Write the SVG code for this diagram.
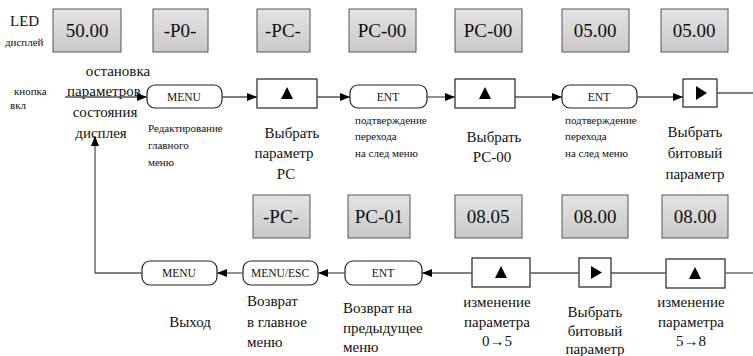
<svg xmlns="http://www.w3.org/2000/svg" width="753" height="356" viewBox="0 0 753 356" font-family="Liberation Serif, serif">
<defs>
<linearGradient id="g" x1="0" y1="0" x2="0" y2="1"><stop offset="0" stop-color="#e4e4e4"/><stop offset="1" stop-color="#c9c9c9"/></linearGradient>
<marker id="ah" markerWidth="10" markerHeight="8" refX="10" refY="4" orient="auto" markerUnits="userSpaceOnUse"><path d="M0,0 L10,4 L0,8 Z" fill="#000"/></marker>
</defs>
<style>
text{fill:#111}
.led rect{fill:url(#g);stroke:#555;stroke-width:1}
.led text{font-size:19px;text-anchor:middle}
.btn rect{fill:#fff;stroke:#222;stroke-width:1.2}
.btn text{font-size:11.5px;text-anchor:middle}
.k rect{fill:#fff;stroke:#222;stroke-width:1.2}
.k polygon{fill:#000}
.s{font-size:11px}
.m{font-size:15px}
.c{text-anchor:middle}
.con path{fill:none;stroke:#555;stroke-width:1.3}
</style>
<rect width="753" height="356" fill="#fff"/>
<g id="labels">
<text x="10" y="26" font-size="15">LED</text>
<text x="5" y="46" class="s">дисплей</text>
<text x="14" y="95" class="s">кнопка</text>
<text x="10" y="109" class="s">вкл</text>
<text x="118" y="76" class="m c">остановка</text>
<text x="104" y="96" class="m c">параметров</text>
<text x="105" y="117" class="m c">состояния</text>
<text x="101" y="138" class="m c">дисплея</text>
<text x="148" y="132" class="s">Редактирование</text>
<text x="148" y="149" class="s">главного</text>
<text x="148" y="166" class="s">меню</text>
<text x="292" y="138" class="m c">Выбрать</text>
<text x="284" y="158" class="m c">параметр</text>
<text x="286" y="179" class="m c">PC</text>
<text x="355" y="124" class="s">подтверждение</text>
<text x="355" y="140" class="s">перехода</text>
<text x="355" y="157" class="s">на след меню</text>
<text x="494" y="142" class="m c">Выбрать</text>
<text x="492" y="162" class="m c">PC-00</text>
<text x="565" y="124" class="s">подтверждение</text>
<text x="565" y="140" class="s">перехода</text>
<text x="565" y="157" class="s">на след меню</text>
<text x="695" y="137" class="m c">Выбрать</text>
<text x="695" y="158" class="m c">битовый</text>
<text x="695" y="179" class="m c">параметр</text>
<text x="190" y="327" class="m c">Выход</text>
<text x="247" y="306" class="m">Возврат</text>
<text x="247" y="327" class="m">в главное</text>
<text x="247" y="347" class="m">меню</text>
<text x="343" y="313" class="m">Возврат на</text>
<text x="343" y="333" class="m">предыдущее</text>
<text x="343" y="352" class="m">меню</text>
<text x="497" y="307" class="m c">изменение</text>
<text x="497" y="327" class="m c">параметра</text>
<text x="497" y="346" class="m c">0→5</text>
<text x="595" y="317" class="m c">Выбрать</text>
<text x="595" y="336" class="m c">битовый</text>
<text x="595" y="354" class="m c">параметр</text>
<text x="691" y="307" class="m c">изменение</text>
<text x="691" y="327" class="m c">параметра</text>
<text x="691" y="346" class="m c">5→8</text>
</g>
<g id="led1" class="led"><rect x="53" y="9" width="68" height="43"/><text x="87" y="37">50.00</text></g>
<g id="led2" class="led"><rect x="153" y="9" width="55" height="43"/><text x="180" y="37">-P0-</text></g>
<g id="led3" class="led"><rect x="257" y="9" width="53" height="43"/><text x="283" y="37">-PC-</text></g>
<g id="led4" class="led"><rect x="349" y="9" width="67" height="43"/><text x="382" y="37">PC-00</text></g>
<g id="led5" class="led"><rect x="455" y="9" width="67" height="43"/><text x="488" y="37">PC-00</text></g>
<g id="led6" class="led"><rect x="562" y="9" width="67" height="43"/><text x="595" y="37">05.00</text></g>
<g id="led7" class="led"><rect x="661" y="9" width="67" height="43"/><text x="694" y="37">05.00</text></g>
<g id="led8" class="led"><rect x="253" y="195" width="57" height="43"/><text x="281" y="223">-PC-</text></g>
<g id="led9" class="led"><rect x="348" y="195" width="62" height="43"/><text x="379" y="223">PC-01</text></g>
<g id="led10" class="led"><rect x="455" y="195" width="67" height="43"/><text x="488" y="223">08.05</text></g>
<g id="led11" class="led"><rect x="562" y="195" width="66" height="43"/><text x="595" y="223">08.00</text></g>
<g id="led12" class="led"><rect x="662" y="195" width="66" height="43"/><text x="695" y="223">08.00</text></g>
<g id="menu1" class="btn"><rect x="147" y="85" width="75" height="23" rx="8"/><text x="184" y="101">MENU</text></g>
<g id="up1" class="k"><rect x="257" y="79" width="60" height="29"/><polygon points="287,87 293,99 281,99"/></g>
<g id="ent1" class="btn"><rect x="350" y="85" width="77" height="23" rx="8"/><text x="388" y="101">ENT</text></g>
<g id="up2" class="k"><rect x="455" y="79" width="60" height="29"/><polygon points="485,87 491,99 479,99"/></g>
<g id="ent2" class="btn"><rect x="562" y="85" width="75" height="23" rx="8"/><text x="599" y="101">ENT</text></g>
<g id="right1" class="k"><rect x="683" y="79" width="34" height="28"/><polygon points="696,86 707,93 696,100"/></g>
<g id="menu2" class="btn"><rect x="142" y="261" width="75" height="24" rx="8"/><text x="179" y="277">MENU</text></g>
<g id="menuesc" class="btn"><rect x="243" y="261" width="75" height="24" rx="8"/><text x="280" y="277">MENU/ESC</text></g>
<g id="ent3" class="btn"><rect x="345" y="261" width="77" height="24" rx="8"/><text x="383" y="277">ENT</text></g>
<g id="up3" class="k"><rect x="472" y="258" width="58" height="29"/><polygon points="501,266 507,278 495,278"/></g>
<g id="right2" class="k"><rect x="579" y="258" width="32" height="29"/><polygon points="591,266 602,272.5 591,279"/></g>
<g id="up4" class="k"><rect x="666" y="259" width="59" height="29"/><polygon points="695,267 701,279 689,279"/></g>
<g id="connectors" class="con">
<path d="M65,97 H147" marker-end="url(#ah)"/>
<path d="M222,97 H257" marker-end="url(#ah)"/>
<path d="M317,97 H350" marker-end="url(#ah)"/>
<path d="M427,97 H455" marker-end="url(#ah)"/>
<path d="M515,97 H562" marker-end="url(#ah)"/>
<path d="M637,97 H683" marker-end="url(#ah)"/>
<path d="M717,93 H753"/>
<path d="M753,273 H725"/>
<path d="M666,273 H611"/>
<path d="M579,273 H530"/>
<path d="M472,273 H422" marker-end="url(#ah)"/>
<path d="M345,273 H318" marker-end="url(#ah)"/>
<path d="M243,273 H217" marker-end="url(#ah)"/>
<path d="M142,273 H95 V136" marker-end="url(#ah)"/>
</g>
</svg>
